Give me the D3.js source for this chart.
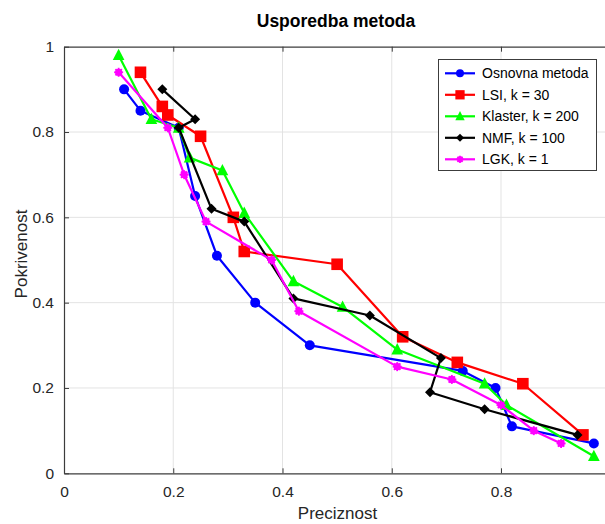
<!DOCTYPE html>
<html>
<head>
<meta charset="utf-8">
<script src="https://cdn.jsdelivr.net/npm/d3@7"></script>
<style>
  html, body { margin: 0; padding: 0; background: #fff; }
  svg { display: block; font-family: "Liberation Sans", Arial, Helvetica, sans-serif; }
</style>
</head>
<body>
<svg id="chart" width="605" height="524"></svg>
<script>
// Precision / recall curves for each retrieval method
const osnovnaX = [0.11, 0.14, 0.21, 0.24, 0.28, 0.35, 0.45, 0.73, 0.79, 0.82, 0.97];
const osnovnaY = [0.90, 0.85, 0.81, 0.65, 0.51, 0.40, 0.30, 0.24, 0.20, 0.11, 0.07];

const lsiX = [0.14, 0.18, 0.19, 0.25, 0.31, 0.33, 0.50, 0.62, 0.72, 0.84, 0.95];
const lsiY = [0.94, 0.86, 0.84, 0.79, 0.60, 0.52, 0.49, 0.32, 0.26, 0.21, 0.09];

const klasterX = [0.10, 0.16, 0.21, 0.23, 0.29, 0.33, 0.42, 0.51, 0.61, 0.77, 0.81, 0.97];
const klasterY = [0.98, 0.83, 0.81, 0.74, 0.71, 0.61, 0.45, 0.39, 0.29, 0.21, 0.16, 0.04];

const nmfX = [0.18, 0.24, 0.21, 0.27, 0.33, 0.42, 0.56, 0.69, 0.67, 0.77, 0.94];
const nmfY = [0.90, 0.83, 0.81, 0.62, 0.59, 0.41, 0.37, 0.27, 0.19, 0.15, 0.09];

const lgkX = [0.10, 0.19, 0.22, 0.26, 0.38, 0.43, 0.61, 0.71, 0.80, 0.86, 0.91];
const lgkY = [0.94, 0.81, 0.70, 0.59, 0.50, 0.38, 0.25, 0.22, 0.16, 0.10, 0.07];

const seriesNames = ["Osnovna metoda", "LSI, k = 30", "Klaster, k = 200", "NMF, k = 100", "LGK, k = 1"];
const xTicks = [0, 0.2, 0.4, 0.6, 0.8];
const yTicks = [0, 0.2, 0.4, 0.6, 0.8, 1];

const series = [
  { name: seriesNames[0], xs: osnovnaX, ys: osnovnaY, color: "#0000ff", marker: "circle" },
  { name: seriesNames[1], xs: lsiX,     ys: lsiY,     color: "#ff0000", marker: "square" },
  { name: seriesNames[2], xs: klasterX, ys: klasterY, color: "#00ff00", marker: "triangle" },
  { name: seriesNames[3], xs: nmfX,     ys: nmfY,     color: "#000000", marker: "diamond" },
  { name: seriesNames[4], xs: lgkX,     ys: lgkY,     color: "#ff00ff", marker: "asterisk" }
];

const svg = d3.select("#chart");
const plotLeft = 64, plotTop = 46.7, plotBottom = 473.3;
const x = d3.scaleLinear().domain([0, 1]).range([plotLeft, plotLeft + 546.25]);
const y = d3.scaleLinear().domain([0, 1]).range([plotBottom, plotTop]);

const axisColor = "#3c3c3c";
const gridColor = "#e3e3e3";

// grid
const grid = svg.append("g");
grid.selectAll("line.gx").data(xTicks.filter(d => d > 0)).enter().append("line")
  .attr("x1", d => x(d)).attr("x2", d => x(d)).attr("y1", plotTop).attr("y2", plotBottom)
  .attr("stroke", gridColor).attr("stroke-width", 1);
grid.selectAll("line.gy").data(yTicks.filter(d => d > 0 && d < 1)).enter().append("line")
  .attr("x1", plotLeft).attr("x2", x(1)).attr("y1", d => y(d)).attr("y2", d => y(d))
  .attr("stroke", gridColor).attr("stroke-width", 1);

// axes with inward ticks
function styleAxis(g) {
  g.selectAll("path.domain").attr("stroke", axisColor).attr("stroke-width", 1.2);
  g.selectAll(".tick line").attr("stroke", axisColor).attr("stroke-width", 1);
  g.selectAll(".tick text").attr("fill", "#262626").style("font-size", "15.5px")
    .style("font-family", '"Liberation Sans", Arial, sans-serif');
}
const fmt = d => String(d);

const xAxis = d3.axisBottom(x).tickValues(xTicks).tickFormat(fmt)
  .tickSizeInner(-5).tickSizeOuter(0).tickPadding(13);
svg.append("g").attr("transform", `translate(0,${plotBottom})`).call(xAxis).call(styleAxis);

const xAxisTop = d3.axisTop(x).tickValues(xTicks).tickFormat("")
  .tickSizeInner(-5).tickSizeOuter(0);
svg.append("g").attr("transform", `translate(0,${plotTop})`).call(xAxisTop).call(styleAxis);

const yAxis = d3.axisLeft(y).tickValues(yTicks).tickFormat(fmt)
  .tickSizeInner(-5).tickSizeOuter(0).tickPadding(10);
svg.append("g").attr("transform", `translate(${plotLeft},0)`).call(yAxis).call(styleAxis);

// marker shapes
function drawMarker(g, type, color, size) {
  const s = size || 1;
  if (type === "circle") {
    g.append("circle").attr("r", 5 * s).attr("fill", color);
  } else if (type === "square") {
    g.append("rect").attr("x", -5.8 * s).attr("y", -5.8 * s).attr("width", 11.6 * s).attr("height", 11.6 * s).attr("fill", color);
  } else if (type === "triangle") {
    const r = 6.5 * s;
    g.append("path").attr("d", `M0,${-r} L${r * 0.9},${r * 0.75} L${-r * 0.9},${r * 0.75} Z`).attr("fill", color);
  } else if (type === "diamond") {
    const r = 5 * s;
    g.append("path").attr("d", `M0,${-r} L${r},0 L0,${r} L${-r},0 Z`).attr("fill", color);
  } else if (type === "asterisk") {
    const r = 4.5 * s;
    g.append("circle").attr("r", r * 0.8).attr("fill", color);
    [0, 45, 90, 135].forEach(a => {
      const rad = a * Math.PI / 180;
      g.append("line")
        .attr("x1", -r * Math.cos(rad)).attr("y1", -r * Math.sin(rad))
        .attr("x2", r * Math.cos(rad)).attr("y2", r * Math.sin(rad))
        .attr("stroke", color).attr("stroke-width", 1.8);
    });
  }
}

// plotted series
const line = d3.line().x(d => x(d[0])).y(d => y(d[1]));
series.forEach(s => {
  const pts = s.xs.map((v, i) => [v, s.ys[i]]);
  const g = svg.append("g");
  g.append("path").attr("d", line(pts)).attr("fill", "none")
    .attr("stroke", s.color).attr("stroke-width", 2.2).attr("stroke-linejoin", "round");
  pts.forEach(p => {
    const m = g.append("g").attr("transform", `translate(${x(p[0])},${y(p[1])})`);
    drawMarker(m, s.marker, s.color);
  });
});

// legend
const lg = svg.append("g");
lg.append("rect").attr("x", 438.5).attr("y", 59.5).attr("width", 158).attr("height", 111)
  .attr("fill", "#fff").attr("stroke", axisColor).attr("stroke-width", 1);
series.forEach((s, i) => {
  const cy = 73.3 + i * 21.5;
  lg.append("line").attr("x1", 445).attr("x2", 475).attr("y1", cy).attr("y2", cy)
    .attr("stroke", s.color).attr("stroke-width", 2.2);
  const m = lg.append("g").attr("transform", `translate(460,${cy})`);
  drawMarker(m, s.marker, s.color, 0.8);
  lg.append("text").attr("x", 482).attr("y", cy + 5).text(s.name)
    .attr("fill", "#000").style("font-size", "14px");
});

// title and axis labels
svg.append("text").attr("x", 336).attr("y", 27).attr("text-anchor", "middle")
  .style("font-size", "17.5px").style("font-weight", "bold").attr("fill", "#000")
  .text("Usporedba metoda");
svg.append("text").attr("x", 337.5).attr("y", 519).attr("text-anchor", "middle")
  .style("font-size", "17px").attr("fill", "#262626").text("Preciznost");
svg.append("text").attr("transform", "translate(27,254) rotate(-90)")
  .attr("text-anchor", "middle").style("font-size", "17px").attr("fill", "#262626")
  .text("Pokrivenost");
</script>
</body>
</html>
